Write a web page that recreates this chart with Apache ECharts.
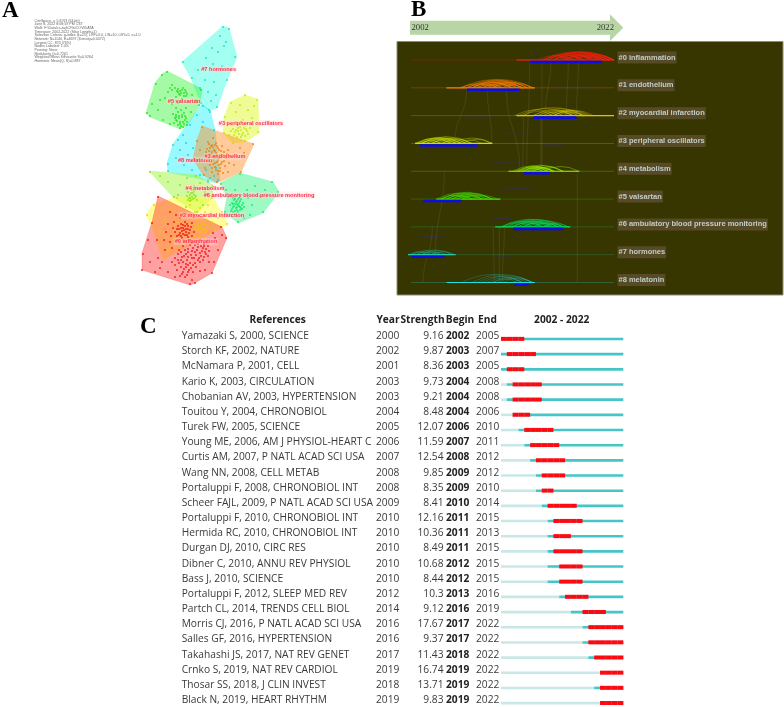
<!DOCTYPE html>
<html><head><meta charset="utf-8">
<style>html,body{margin:0;padding:0;background:#fff}#c{width:784px;height:707px;filter:blur(.3px)}</style>
<script src="https://cdn.jsdelivr.net/npm/echarts@6/dist/echarts.min.js"></script>
</head><body><div id="c"></div>
<script>
// ---------- Panel A data (map position) ----------
const infoLines = ["CiteSpace, v. 5.8.R3 (64-bit)","June 8, 2022 8:08:59 PM CST","WoS: F:\\Data\\cr-zaji\\CRn\\COVIDATA","Timespan: 2002-2022 (Slice Length=1)","Selection Criteria: g-index (k=25), LRF=3.0, L/N=10, LBY=5, e=1.0","Network: N=1140, E=4697 (Density=0.0072)","Largest CC: 870 (76%)","Nodes Labeled: 1.0%","Pruning: None","Modularity Q=0.7261","Weighted Mean Silhouette S=0.9264","Harmonic Mean(Q, S)=0.887"];
const hullNames = ["#7 hormones","#5 valsartan","#3 peripheral oscillators","#8 melatonin","#1 endothelium","#4 metabolism","#6 ambulatory blood pressure monitoring","#2 myocardial infarction","#0 inflammation"];
const hull7 = [[223,26],[229,28],[237,57],[227,80],[217,108],[209,111],[201,104],[191,78],[182,62]];
const hull5 = [[167,71],[202,89],[200,105],[188,125],[180,129],[150,117],[146,113],[155,83],[162,74]];
const hull3 = [[245,95],[258,99],[259,133],[245,142],[233,143],[223,133],[224,117],[230,102]];
const hull8 = [[202,104],[210,110],[215,130],[220,180],[217,183],[168,172],[167,163],[173,144]];
const hull1 = [[202,126],[254,144],[241,172],[217,183],[203,175],[193,159],[197,140]];
const hull4 = [[149,171],[197,175],[213,185],[213,197],[197,213],[173,197]];
const hull6 = [[220,183],[240,173],[273,182],[279,192],[263,213],[238,223],[224,212],[227,197]];
const hull2 = [[146,215],[153,204],[177,197],[213,197],[228,224],[163,260],[152,227]];
const hull0 = [[158,196],[222,227],[227,238],[212,273],[195,283],[190,285],[142,270],[142,253],[152,222]];
const nodes7 = [[223,27],[229,29],[235,57],[227,80],[217,107],[209,110],[201,103],[192,78],[183,62],[212,48],[218,52],[224,46],[206,58],[213,64],[222,66],[198,70],[205,80],[214,82],[208,92],[216,95],[200,88],[220,36],[226,42],[211,101],[204,68]];
const nodes5 = [[167,72],[201,90],[199,105],[187,125],[180,128],[150,116],[147,113],[156,84],[162,75],[170,88],[172,90],[175,88],[178,92],[182,90],[184,93],[180,95],[176,97],[186,96],[182,99],[178,103],[172,85],[168,92],[165,98],[172,104],[176,108],[178,112],[181,110],[184,113],[176,115],[179,118],[182,117],[185,120],[180,122],[176,120],[173,114],[186,108],[191,112],[160,100],[158,110],[192,95],[196,100],[163,120],[170,124],[183,127],[152,104],[178,89],[180,91],[183,88],[185,90],[186,92],[179,94],[181,93],[184,96],[187,94],[177,91],[175,118],[177,121],[180,124],[183,122],[186,118],[174,123],[178,125],[181,126],[184,124],[187,122],[176,117],[182,115],[179,116],[185,116]];
const nodes3 = [[245,95],[257,100],[258,132],[245,141],[233,143],[224,133],[225,117],[231,103],[240,105],[248,110],[236,112],[252,118],[243,120],[232,125],[238,128],[241,130],[244,128],[235,132],[239,134],[243,133],[247,131],[237,137],[241,137],[250,128],[229,135],[254,106],[233,129],[236,130],[240,127],[246,129],[248,134],[234,135],[238,131],[242,135],[245,136],[231,131]];
const nodes8 = [[203,106],[210,112],[214,130],[168,171],[168,164],[173,145],[183,135],[190,125],[197,115],[180,150],[186,143],[176,158],[184,165],[192,170],[200,175],[210,178],[218,180],[214,176],[206,170],[178,140],[193,148],[188,155],[203,122],[216,168],[208,182]];
const nodes1 = [[202,127],[253,144],[241,172],[217,182],[204,175],[194,159],[197,141],[208,142],[212,145],[216,143],[210,148],[214,150],[218,148],[222,146],[206,152],[211,154],[216,153],[220,155],[224,152],[228,150],[208,158],[213,160],[218,160],[222,162],[226,158],[230,156],[235,155],[210,165],[215,167],[220,168],[225,166],[229,163],[212,172],[218,174],[223,173],[240,148],[244,153],[234,165],[200,150],[205,168],[213,138],[228,172],[216,157],[221,151],[212,157],[209,144],[211,146],[213,147],[215,145],[217,146],[219,150],[207,149],[209,151],[212,152],[215,151],[217,155],[219,158],[221,157],[223,155],[210,156],[214,156],[207,161],[211,162],[215,163],[217,162],[219,165],[221,164],[224,161],[212,168],[216,170],[218,171],[220,171],[213,164],[225,156],[227,154]];
const nodes4 = [[150,172],[196,176],[212,186],[212,196],[197,212],[174,197],[187,178],[192,190],[190,195],[193,193],[196,196],[189,198],[193,199],[197,200],[190,201],[194,186],[200,183],[205,192],[180,185],[168,182],[178,195],[203,205],[186,207],[160,176],[208,180],[188,192],[191,193],[194,195],[187,196],[190,198],[192,197],[195,198],[188,200],[191,200],[194,191]];
const nodes6 = [[221,184],[240,174],[272,182],[278,192],[263,212],[238,222],[225,212],[228,197],[235,190],[236,195],[238,199],[234,200],[232,203],[236,202],[240,201],[243,203],[238,205],[234,206],[230,205],[236,208],[240,207],[244,207],[232,209],[235,211],[240,210],[247,190],[255,186],[260,196],[252,205],[250,215],[244,218],[226,190],[248,198],[265,190],[233,198],[235,199],[237,201],[239,203],[241,199],[242,205],[233,204],[235,204],[237,204],[239,206],[241,208],[233,207],[237,207],[231,211],[233,212],[237,210],[238,212],[242,209],[235,198],[239,198]];
const nodes2 = [[147,215],[154,205],[177,198],[212,198],[227,224],[163,259],[153,228],[190,205],[200,208],[208,205],[195,212],[205,212],[213,215],[197,220],[202,222],[207,220],[212,222],[198,227],[203,228],[208,227],[200,232],[205,233],[194,236],[199,237],[205,238],[185,215],[178,222],[170,208],[165,220],[160,232],[218,218],[222,212],[215,230],[172,238],[180,228],[158,245],[168,250],[210,232],[194,224],[196,226],[198,224],[200,226],[202,225],[204,224],[206,225],[195,229],[197,230],[199,229],[201,229],[203,231],[205,229],[207,231]];
const nodes0 = [[158,197],[221,227],[226,238],[212,273],[195,283],[190,284],[142,270],[143,254],[152,223],[170,212],[176,215],[180,218],[185,222],[188,226],[192,223],[183,228],[178,226],[174,222],[168,224],[186,232],[190,230],[194,232],[180,233],[175,232],[171,236],[166,232],[182,238],[188,237],[192,236],[177,240],[170,242],[164,240],[186,242],[190,245],[196,242],[200,240],[204,244],[208,246],[203,248],[198,247],[193,248],[188,249],[183,246],[179,250],[195,252],[200,253],[205,252],[209,251],[186,254],[191,255],[182,257],[178,254],[175,258],[194,258],[199,258],[204,257],[208,256],[187,260],[183,262],[179,263],[190,263],[195,263],[200,262],[175,265],[181,267],[186,267],[191,268],[196,267],[177,270],[183,272],[188,272],[193,272],[180,276],[185,277],[165,250],[158,258],[150,262],[155,272],[168,272],[172,262],[215,238],[218,250],[214,262],[205,270],[148,240],[157,240],[162,262],[200,271],[213,233],[222,235],[192,280],[175,277],[160,268],[209,262],[172,248],
[181,224],[183,225],[185,226],[187,224],[184,230],[186,229],[188,229],[182,231],[179,229],[181,228],[177,229],[189,233],[191,227],[179,235],[185,235],[187,235],[183,234],[177,236],[181,236],[173,228],[190,240],[192,243],[195,245],[198,244],[201,246],[204,246],[206,249],[202,251],[197,250],[192,251],[188,252],[185,250],[181,252],[184,256],[188,257],[192,258],[196,255],[201,256],[206,254],[186,264],[181,260],[188,265],[193,265],[198,260],[178,260],[184,269],[189,270],[182,274],[187,275],[203,260]];
// ---------- Panel B data (timeline) ----------
const clusterNames = ["#0 inflammation","#1 endothelium","#2 myocardial infarction","#3 peripheral oscillators","#4 metabolism","#5 valsartan","#6 ambulatory blood pressure monitoring","#7 hormones","#8 melatonin"];
const timelineYears = [2002,2022];
const activeRanges = [[2012.4,2022],[2005.5,2014.2],[2012.4,2022],[2002.4,2010],[2011.6,2018.6],[2004.5,2010.8],[2010.3,2017.7],[2001.7,2006.4],[2005.5,2014.2]];
const citedRanges = [[2013.7,2020.8],[2007.5,2012.7],[2014.1,2018.3],[2002.9,2008.5],[2013.1,2015.7],[2003.2,2007],[2012.1,2017],[2002.1,2005.3],[2012.2,2013.6]];
const arcs0 = [[2014.5,2018],[2015,2019],[2015,2021],[2016,2022],[2016,2021],[2016,2020],[2017,2022],[2017,2021],[2017,2020],[2018,2022],[2018,2021],[2018,2020],[2019,2022],[2019,2021],[2020,2022],[2016,2019],[2015.5,2022],[2015.5,2021.5],[2016.5,2021.5],[2016.5,2020.5],[2017.5,2021.5],[2017.5,2020.5],[2018.5,2021.5],[2015,2017.5],[2016,2018],[2017,2019],[2019,2020.5],[2020,2021.5],[2021,2022],[2015.3,2020]];
const arcs1 = [[2007,2013],[2007.5,2012],[2008,2013],[2008,2012],[2008,2011],[2009,2013],[2009,2012],[2009,2011],[2010,2013],[2010,2012],[2010,2014],[2011,2013],[2008,2014],[2007,2010],[2006.8,2009],[2007.5,2013.5],[2008.5,2012.5],[2008.5,2013.5],[2009.5,2012.5],[2009.5,2013.5],[2010.5,2012.5],[2007.5,2010.5],[2008.5,2010.5],[2011,2014]];
const arcs2 = [[2012.2,2016.5],[2012.6,2018],[2013,2019],[2014,2018],[2014,2019.3],[2015,2019],[2015,2018],[2015.5,2019.5],[2016,2019],[2016,2018],[2017,2019],[2016,2020],[2013,2016],[2014.5,2018.5],[2015.5,2018.5],[2016.5,2019],[2014.5,2017],[2016,2019.7]];
const arcs3 = [[2002.4,2006],[2002.5,2007],[2003,2008],[2003,2006],[2004,2007],[2004,2008],[2005,2008],[2005,2007],[2002.8,2005],[2006,2010],[2007,2010],[2006.5,2009],[2003.5,2007.5],[2003,2007],[2003.5,2006.5],[2004.5,2007.5],[2002.6,2006.5],[2004,2006],[2005,2006.5],[2003,2005]];
const arcs4 = [[2012,2016],[2012.5,2017],[2013,2016],[2013,2015.5],[2013.5,2016],[2014,2016],[2012.7,2015],[2014,2017],[2015,2018.5],[2013,2017],[2013.5,2015],[2012.5,2016],[2013.3,2016.2],[2012.3,2015.5],[2013.8,2015.5]];
const arcs5 = [[2004.5,2009],[2005,2009.5],[2005,2008],[2005.5,2010],[2006,2009],[2006,2010],[2006.5,2008.5],[2007,2010],[2007,2009],[2005.5,2008],[2008,2010.5],[2005,2010],[2005.5,2009],[2006.5,2009.5],[2004.8,2007.5],[2006,2008]];
const arcs6 = [[2010.8,2015],[2011.3,2016],[2011.5,2017],[2012,2016],[2012,2017],[2013,2016],[2013,2017.5],[2014,2017],[2012.5,2015],[2014,2016.5],[2015,2017.5],[2011,2014],[2011,2016.5],[2012.5,2016.5],[2013.5,2016.5],[2012,2015],[2011.7,2015.7],[2013,2015.5],[2015,2017]];
const arcs7 = [[2001.7,2004],[2002,2005],[2002.5,2006],[2003,2005],[2003,2006.2],[2004,2006.3],[2002,2003.7],[2004,2005.5],[2002.5,2004.5],[2003.5,2005.5]];
const arcs8 = [[2007,2013],[2008,2014],[2009,2014],[2009.5,2013],[2010,2014],[2011,2014],[2010,2012.5],[2012,2014],[2008.5,2013],[2010.5,2013.5]];
const arcStrength = [.62,.62,.5,.6,.62,.62,.62,.42,.32];
const faintLinks = [[2007.5,1,2006.3,3],[2009.5,1,2010,3],[2011.4,1,2012.7,4],[2014.9,0,2014.9,4],[2013.7,0,2013.4,4],[2017.5,0,2017.3,2],[2018.5,0,2018.3,2],[2015.8,0,2015.2,2],[2010.7,6,2010.7,8],[2010.1,6,2010.2,8],[2011.2,6,2011,8],[2018.4,4,2018.4,8],[2005.3,4,2004.4,7],[2004.1,6,2003.2,8],[2013.1,2,2013,4],[2014.8,2,2014.8,4]];
const dimCited = [[2016,2020,1],[2007,2010,2],[2011.2,2014,2.58],[2015,2017,3],[2010,2013,3.65],[2011,2014,4.58],[2010,2012,5.65],[2003,2005,6.3],[2010.2,2011.8,7]];
// ---------- Panel C data (citation bursts) ----------
const tableHeaders = ["References","Year","Strength","Begin","End","2002 - 2022"];
const references = ["Yamazaki S, 2000, SCIENCE","Storch KF, 2002, NATURE","McNamara P, 2001, CELL","Kario K, 2003, CIRCULATION","Chobanian AV, 2003, HYPERTENSION","Touitou Y, 2004, CHRONOBIOL","Turek FW, 2005, SCIENCE","Young ME, 2006, AM J PHYSIOL-HEART C","Curtis AM, 2007, P NATL ACAD SCI USA","Wang NN, 2008, CELL METAB","Portaluppi F, 2008, CHRONOBIOL INT","Scheer FAJL, 2009, P NATL ACAD SCI USA","Portaluppi F, 2010, CHRONOBIOL INT","Hermida RC, 2010, CHRONOBIOL INT","Durgan DJ, 2010, CIRC RES","Dibner C, 2010, ANNU REV PHYSIOL","Bass J, 2010, SCIENCE","Portaluppi F, 2012, SLEEP MED REV","Partch CL, 2014, TRENDS CELL BIOL","Morris CJ, 2016, P NATL ACAD SCI USA","Salles GF, 2016, HYPERTENSION","Takahashi JS, 2017, NAT REV GENET","Crnko S, 2019, NAT REV CARDIOL","Thosar SS, 2018, J CLIN INVEST","Black N, 2019, HEART RHYTHM"];
const refYears = [2000,2002,2001,2003,2003,2004,2005,2006,2007,2008,2008,2009,2010,2010,2010,2010,2010,2012,2014,2016,2016,2017,2019,2018,2019];
const strengths = ["9.16","9.87","8.36","9.73","9.21","8.48","12.07","11.59","12.54","9.85","8.35","8.41","12.16","10.36","8.49","10.68","8.44","10.3","9.12","17.67","9.37","11.43","16.74","13.71","9.83"];
const beginYears = [2002,2003,2003,2004,2004,2004,2006,2007,2008,2009,2009,2010,2011,2011,2011,2012,2012,2013,2016,2017,2017,2018,2019,2019,2019];
const endYears = [2005,2007,2005,2008,2008,2006,2010,2011,2012,2012,2010,2014,2015,2013,2015,2015,2015,2016,2019,2022,2022,2022,2022,2022,2022];
const spanFirst = 2002, spanLast = 2022;

// ---------- Build ----------
const hulls = [hull7,hull5,hull3,hull8,hull1,hull4,hull6,hull2,hull0];
const hullColors = ['rgba(60,255,225,.48)','rgba(50,245,50,.44)','rgba(225,250,60,.55)','rgba(50,245,255,.5)','rgba(255,140,30,.45)','rgba(160,245,60,.5)','rgba(50,245,130,.48)','rgba(255,255,50,.5)','rgba(255,30,30,.42)'];
const nodeSets = [nodes7,nodes5,nodes3,nodes8,nodes1,nodes4,nodes6,nodes2,nodes0];
const nodeColors = ['#10d8b8','#10e010','#c4e000','#10c8e8','#f07800','#80e000','#00e860','#f0c800','#f00000'];
const labelAt = [[218.6,69],[184,101],[251,123.3],[195,160],[225,156.7],[205,188],[259,195],[212,215.7],[196,241.7]];
const clusterColors = ['#ff2010','#ff8000','#d8c800','#c8e000','#90ee00','#40e000','#00e060','#20c8a8','#20e0e0'];
const arcSets = [arcs0,arcs1,arcs2,arcs3,arcs4,arcs5,arcs6,arcs7,arcs8];
const arcData = []; arcSets.forEach((a,r)=>a.forEach(p=>arcData.push([p[0],p[1],r])));

const hide = {show:false};
const panelA = 0, panelB = 1, panelC = 2, panelT = 3;
const series = [];
// Panel A: hull polygons
hulls.forEach((h,i)=>series.push({type:'custom',xAxisIndex:panelA,yAxisIndex:panelA,silent:true,z:2+i*0.01,data:h,
  renderItem:(p,api)=>{ if(p.dataIndex!==0) return null;
    return {type:'polygon',shape:{points:h.map(q=>api.coord(q))},style:{fill:hullColors[i],stroke:hullColors[i],lineWidth:.5}};}}));
nodeSets.forEach((n,i)=>series.push({type:'scatter',xAxisIndex:panelA,yAxisIndex:panelA,silent:true,z:3,data:n,symbolSize:1.9,itemStyle:{color:nodeColors[i],opacity:.85}}));
series.push({type:'scatter',xAxisIndex:panelA,yAxisIndex:panelA,silent:true,z:5,symbolSize:0,
  data:labelAt.map((v,i)=>({value:v,name:hullNames[i]})),
  label:{show:true,position:'inside',formatter:'{b}',color:'#ff0a28',fontFamily:'Liberation Sans',fontWeight:'bold',fontSize:5.6,backgroundColor:'rgba(255,225,225,.4)',padding:[.5,1],textBorderColor:'rgba(255,215,215,.55)',textBorderWidth:.8}});
// Panel B
const bX=panelB,bY=panelB;
series.push({type:'custom',xAxisIndex:bX,yAxisIndex:bY,silent:true,clip:false,z:3,data:clusterNames.map((n,i)=>[i]),
  renderItem:(p,api)=>{const r=api.value(0),a=api.coord([timelineYears[0],r]),b=api.coord([timelineYears[1],r]);
    return {type:'line',shape:{x1:a[0],y1:a[1],x2:b[0],y2:b[1]},style:{stroke:clusterColors[r],opacity:.32,lineWidth:.8}};}});
series.push({type:'custom',xAxisIndex:bX,yAxisIndex:bY,silent:true,clip:false,z:3,data:faintLinks,
  renderItem:(p,api)=>{const a=api.coord([api.value(0),api.value(1)]),b=api.coord([api.value(2),api.value(3)]);
    const my=(a[1]+b[1])/2;
    return {type:'bezierCurve',shape:{x1:a[0],y1:a[1],x2:b[0],y2:b[1],cpx1:a[0],cpy1:my,cpx2:b[0],cpy2:my},style:{stroke:'#c8c8a0',opacity:.1,lineWidth:1.2,fill:null}};}});
series.push({type:'custom',xAxisIndex:bX,yAxisIndex:bY,silent:true,clip:false,z:4,data:arcData,
  renderItem:(p,api)=>{const r=api.value(2),a=api.coord([api.value(0),r]),b=api.coord([api.value(1),r]);
    const h=Math.min((b[0]-a[0])*0.27,16);
    return {type:'bezierCurve',shape:{x1:a[0],y1:a[1],x2:b[0],y2:b[1],cpx1:(a[0]+b[0])/2,cpy1:a[1]-h},style:{stroke:clusterColors[r],opacity:arcStrength[r],lineWidth:.7,fill:null}};}});
series.push({type:'custom',xAxisIndex:bX,yAxisIndex:bY,silent:true,clip:false,z:5,data:activeRanges.map((v,i)=>[v[0],v[1],i]),
  renderItem:(p,api)=>{const r=api.value(2),a=api.coord([api.value(0),r]),b=api.coord([api.value(1),r]);
    return {type:'line',shape:{x1:a[0],y1:a[1],x2:b[0],y2:b[1]},style:{stroke:clusterColors[r],lineWidth:1.2}};}});
series.push({type:'custom',xAxisIndex:bX,yAxisIndex:bY,silent:true,clip:false,z:5,data:citedRanges.map((v,i)=>[v[0],v[1],i]),
  renderItem:(p,api)=>{const r=api.value(2),a=api.coord([api.value(0),r]),b=api.coord([api.value(1),r]);
    return {type:'rect',shape:{x:a[0],y:a[1]+.7,width:b[0]-a[0],height:2.6},style:{fill:'#0c0ce8'}};}});
series.push({type:'custom',xAxisIndex:bX,yAxisIndex:bY,silent:true,clip:false,z:3,data:dimCited,
  renderItem:(p,api)=>{const r=api.value(2),a=api.coord([api.value(0),r]),b=api.coord([api.value(1),r]);
    return {type:'rect',shape:{x:a[0],y:a[1]+.8,width:b[0]-a[0],height:1.2},style:{fill:'#3030a0',opacity:.35}};}});
series.push({type:'scatter',xAxisIndex:bX,yAxisIndex:bY,silent:true,z:6,symbolSize:0,
  data:clusterNames.map((n,i)=>({value:[timelineYears[1],i],name:n})),
  label:{show:true,position:'right',distance:3.5,formatter:'{b}',color:'#dcecea',fontFamily:'Liberation Sans',fontWeight:'bold',fontSize:7.5,backgroundColor:'#5f5030',padding:[2,1,2,1],offset:[0,-2.5]}});
// Panel C: bars on a year scale (a year occupies [Y, Y+1))
series.push({type:'custom',xAxisIndex:panelC,yAxisIndex:panelC,silent:true,z:3,data:references.map((n,i)=>[i,refYears[i],beginYears[i],endYears[i]]),
  renderItem:(p,api)=>{const i=api.value(0),yr=Math.max(api.value(1),spanFirst),bg=api.value(2),en=api.value(3)+1;
    const rect=(x0,x1,off,h,fill,extra)=>{const a=api.coord([x0,i]),b=api.coord([x1,i]);
      return {type:'rect',shape:{x:a[0],y:a[1]+off,width:b[0]-a[0],height:h},style:Object.assign({fill},extra||{})};};
    const kids=[rect(spanFirst,yr,2.4,2.6,'#c8e8e8'),rect(yr,spanLast+1,2.4,2.6,'#45c5c5')];
    for(let y=bg;y<en;y++) kids.push(rect(y,y+1,1.6,4,'#fb0a12',{stroke:'rgba(255,90,90,.25)',lineWidth:.2}));
    return {type:'group',children:kids};}});
// Panel C: table text, on a column-position scale
const colX={ref:181.7,year:376,strength:443.5,begin:446,end:476};
const txt=(api,x,i,s,extra)=>{const a=api.coord([x,i]);
  return {type:'text',x:a[0],y:a[1]+.8,style:Object.assign({text:s,fill:'#3a3a3a',font:'10.2px "Open Sans"',verticalAlign:'middle',align:'left'},extra||{})};};
series.push({type:'custom',xAxisIndex:panelT,yAxisIndex:panelT,silent:true,clip:false,z:4,data:references.map((n,i)=>[i]),
  renderItem:(p,api)=>{const i=api.value(0);
    return {type:'group',children:[txt(api,colX.ref,i,references[i]),txt(api,colX.year,i,String(refYears[i])),
      txt(api,colX.strength,i,strengths[i],{align:'right'}),
      txt(api,colX.begin,i,String(beginYears[i]),{font:'bold 10.2px "Open Sans"',fill:'#222'}),txt(api,colX.end,i,String(endYears[i]))]};}});
const hdrX=[277.7,388,422.5,460,487.5,561.7];
const headerText = tableHeaders.map((t,i)=>({type:'text',z:10,x:hdrX[i],y:320,style:{text:t,font:'bold 10.2px "Open Sans"',fill:'#222',textAlign:'center',textVerticalAlign:'middle'}}));
const letter=(t,x,y)=>({type:'text',z:10,x,y,style:{text:t,font:'bold 23px "Liberation Serif"',fill:'#000',textVerticalAlign:'top'}});
const graphic=[
  letter('A',2,0),letter('B',411,-1),letter('C',140,316),
  {type:'rect',z:-5,shape:{x:397,y:41.5,width:386,height:253.5},style:{fill:'#373500',stroke:'#8c8c78',lineWidth:1}},
  {type:'polygon',z:-5,shape:{points:[[410,20.7],[610,20.7],[610,14.3],[623.3,27.7],[610,41],[610,34.7],[410,34.7]]},style:{fill:'#b8d5a6'}},
  {type:'text',z:10,x:411.5,y:28,style:{text:String(timelineYears[0]),font:'8.7px "Liberation Serif"',fill:'#333',textVerticalAlign:'middle'}},
  {type:'text',z:10,x:614,y:28,style:{text:String(timelineYears[1]),font:'8.7px "Liberation Serif"',fill:'#333',textAlign:'right',textVerticalAlign:'middle'}},
  ...infoLines.map((t,i)=>({type:'text',z:10,x:34.5,y:20.8+i*3.64,style:{text:t,font:'3.6px "Liberation Sans"',fill:'#666',textVerticalAlign:'middle'}})),
  ...headerText
];
const option={animation:false,backgroundColor:'#fff',graphic,
 grid:[{left:0,top:0,width:390,height:300},{left:411,top:60,width:203,height:222.5},{left:501,top:327.7,width:122.3,height:380},{left:0,top:327.7,width:784,height:380}],
 xAxis:[{type:'value',min:0,max:390,gridIndex:0,...hide},{type:'value',min:2002,max:2022,gridIndex:1,...hide},{type:'value',min:spanFirst,max:spanLast+1,gridIndex:2,...hide},{type:'value',min:0,max:784,gridIndex:3,...hide}],
 yAxis:[{type:'value',min:0,max:300,inverse:true,gridIndex:0,...hide},{type:'value',min:0,max:8,inverse:true,gridIndex:1,...hide},{type:'value',min:-.5,max:24.5,inverse:true,gridIndex:2,...hide},{type:'value',min:-.5,max:24.5,inverse:true,gridIndex:3,...hide}],
 series};
echarts.init(document.getElementById('c'),null,{renderer:'canvas'}).setOption(option);
</script></body></html>
